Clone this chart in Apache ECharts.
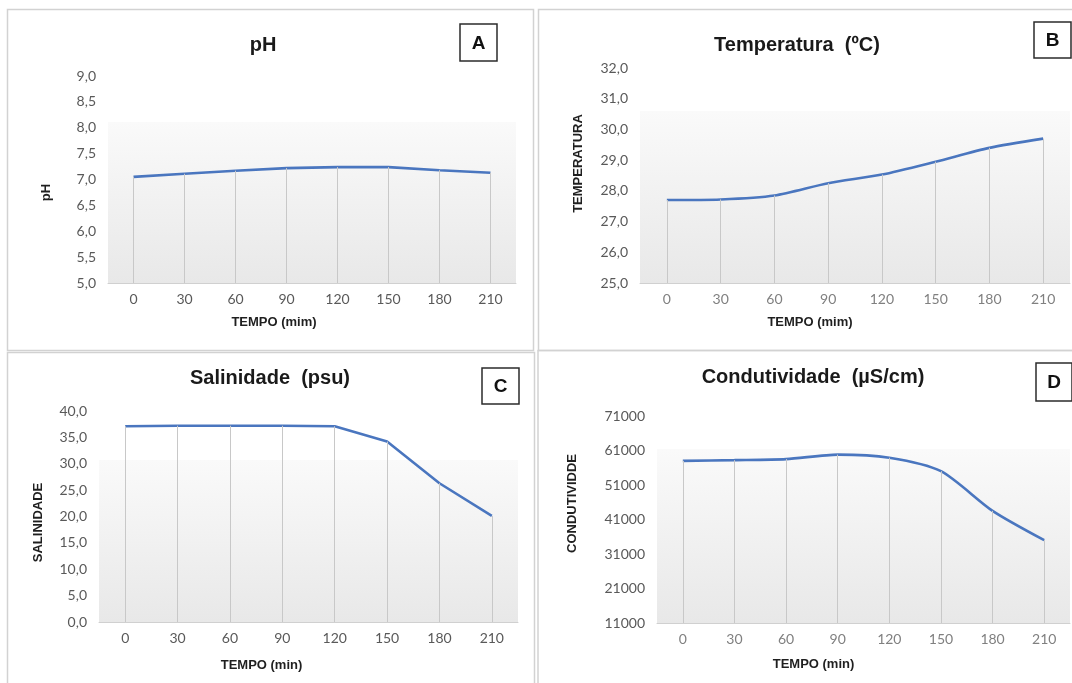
<!DOCTYPE html>
<html>
<head>
<meta charset="utf-8">
<title>Parâmetros físico-químicos ao longo do tempo</title>
<script src="https://cdn.jsdelivr.net/npm/echarts@6/dist/echarts.min.js"></script>
<style>
  html, body { margin: 0; padding: 0; background: #ffffff; }
  #chart { width: 1072px; height: 683px; }
</style>
</head>
<body>
<div id="chart"></div>
<script>
// Tempo de amostragem (min)
const tempos = ['0', '30', '60', '90', '120', '150', '180', '210'];

// Medições por parâmetro
const phValues   = [7.05, 7.11, 7.17, 7.22, 7.24, 7.24, 7.18, 7.13];
const tempValues = [27.70, 27.72, 27.85, 28.25, 28.53, 28.95, 29.40, 29.70];
const salValues  = [37.1, 37.2, 37.2, 37.2, 37.1, 34.2, 26.3, 20.1];
const condValues = [58000, 58200, 58500, 59800, 58900, 55000, 43500, 35000];

// Marcas dos eixos verticais
const phTicks   = [5.0, 5.5, 6.0, 6.5, 7.0, 7.5, 8.0, 8.5, 9.0];
const tempTicks = [25, 26, 27, 28, 29, 30, 31, 32];
const salTicks  = [0, 5, 10, 15, 20, 25, 30, 35, 40];
const condTicks = [11000, 21000, 31000, 41000, 51000, 61000, 71000];

const LINE_COLOR = '#4a76bf';
const LABEL_FONT = 'Lato';
const BOLD_FONT = '"Liberation Sans", Arial, sans-serif';

const decimal = v => v.toFixed(1).replace('.', ',');
const integer = v => String(Math.round(v));

function plotFill(whiteStop) {
  return new echarts.graphic.LinearGradient(0, 0, 0, 1, [
    { offset: 0, color: '#ffffff' },
    { offset: whiteStop, color: '#ffffff' },
    { offset: whiteStop + 0.001, color: '#fafafa' },
    { offset: 1, color: '#e8e8e8' }
  ]);
}

function makeGrid(left, top, width, height, whiteStop) {
  return {
    left, top, width, height,
    show: true,
    borderWidth: 0,
    backgroundColor: plotFill(whiteStop)
  };
}

function makeX(gridIndex, name, labelColor, nameGap, shiftLeft) {
  return {
    type: 'category',
    gridIndex,
    data: tempos,
    boundaryGap: true,
    name,
    nameLocation: 'middle',
    nameGap,
    nameTextStyle: {
      fontFamily: BOLD_FONT, fontWeight: 'bold', fontSize: 13, color: '#1f1f1f',
      padding: [0, shiftLeft * 2, 0, 0]
    },
    axisLine: { show: true, lineStyle: { color: '#d0d0d0', width: 1 } },
    axisTick: { show: false },
    axisLabel: { fontFamily: LABEL_FONT, fontSize: 14, color: labelColor, margin: 9 },
    splitLine: { show: false }
  };
}

function makeY(gridIndex, name, ticks, fmt, nameGap, shiftDown) {
  const pad = shiftDown >= 0 ? [0, shiftDown * 2, 0, 0] : [0, 0, 0, -shiftDown * 2];
  return {
    type: 'value',
    gridIndex,
    min: ticks[0],
    max: ticks[ticks.length - 1],
    name,
    nameLocation: 'middle',
    nameGap,
    nameTextStyle: {
      fontFamily: BOLD_FONT, fontWeight: 'bold', fontSize: 13, color: '#1f1f1f',
      padding: pad
    },
    axisLine: { show: false },
    axisTick: { show: false },
    splitLine: { show: false },
    axisLabel: {
      customValues: ticks,
      formatter: fmt,
      fontFamily: LABEL_FONT, fontSize: 14, color: '#595959', margin: 12
    }
  };
}

// Linha de cada parâmetro, com linhas de chamada até o eixo horizontal
function makeSeries(index, values, ticks, smooth) {
  const base = ticks[0];
  return {
    type: 'line',
    xAxisIndex: index,
    yAxisIndex: index,
    data: values,
    smooth,
    symbol: 'none',
    lineStyle: { color: LINE_COLOR, width: 2.6 },
    z: 3,
    markLine: {
      silent: true,
      symbol: 'none',
      label: { show: false },
      lineStyle: { color: '#c8c8c8', width: 1, type: 'solid' },
      emphasis: { disabled: true },
      data: values.map((v, i) => [
        { coord: [tempos[i], v] },
        { coord: [tempos[i], base] }
      ])
    }
  };
}

function makeTitle(text, x, top) {
  return {
    text,
    left: x,
    top,
    textAlign: 'center',
    padding: 0,
    textStyle: { fontFamily: BOLD_FONT, fontWeight: 'bold', fontSize: 20, color: '#1a1a1a' }
  };
}

function frame(x, y, w, h) {
  return {
    type: 'rect',
    shape: { x, y, width: w, height: h },
    style: { fill: 'none', stroke: '#d2d2d2', lineWidth: 1.5 },
    silent: true,
    z: 0
  };
}

function letterBox(letter, x, y, w, h) {
  return {
    type: 'group',
    silent: true,
    z: 10,
    children: [
      {
        type: 'rect',
        shape: { x, y, width: w, height: h },
        style: { fill: '#ffffff', stroke: '#2b2b2b', lineWidth: 1.5 }
      },
      {
        type: 'text',
        x: x + w / 2,
        y: y + h / 2 + 1,
        style: {
          text: letter,
          fontFamily: BOLD_FONT, fontWeight: 'bold', fontSize: 19,
          fill: '#111111', align: 'center', verticalAlign: 'middle'
        }
      }
    ]
  };
}

const option = {
  animation: false,
  backgroundColor: '#ffffff',
  title: [
    makeTitle('pH', 263, 35),
    makeTitle('Temperatura  (ºC)', 797, 35),
    makeTitle('Salinidade  (psu)', 270, 368),
    makeTitle('Condutividade  (µS/cm)', 813, 367)
  ],
  grid: [
    makeGrid(108, 76, 408, 207, 0.22),
    makeGrid(640, 68, 430, 215, 0.20),
    makeGrid(99, 411, 419, 211, 0.23),
    makeGrid(657, 416, 413, 207, 0.16)
  ],
  xAxis: [
    makeX(0, 'TEMPO (mim)', '#595959', 33, 38),
    makeX(1, 'TEMPO (mim)', '#808080', 33, 45),
    makeX(2, 'TEMPO (min)', '#595959', 37, 47),
    makeX(3, 'TEMPO (min)', '#808080', 35, 50)
  ],
  yAxis: [
    makeY(0, 'pH', phTicks, decimal, 55, 13),
    makeY(1, 'TEMPERATURA', tempTicks, decimal, 55, -12),
    makeY(2, 'SALINIDADE', salTicks, decimal, 54, 6),
    makeY(3, 'CONDUTIVIDDE', condTicks, integer, 78, -16)
  ],
  series: [
    makeSeries(0, phValues, phTicks, false),
    makeSeries(1, tempValues, tempTicks, 0.25),
    makeSeries(2, salValues, salTicks, false),
    makeSeries(3, condValues, condTicks, 0.25)
  ],
  graphic: [
    frame(7.5, 9.5, 526, 341),
    frame(538.5, 9.5, 560, 341),
    frame(7.5, 352.5, 527, 400),
    frame(538, 350.5, 560, 400),
    letterBox('A', 460, 24, 37, 37),
    letterBox('B', 1034, 22, 37, 36),
    letterBox('C', 482, 368, 37, 36),
    letterBox('D', 1036, 363, 36, 38)
  ]
};

const chart = echarts.init(document.getElementById('chart'), null, { renderer: 'canvas' });
chart.setOption(option);
</script>
</body>
</html>
